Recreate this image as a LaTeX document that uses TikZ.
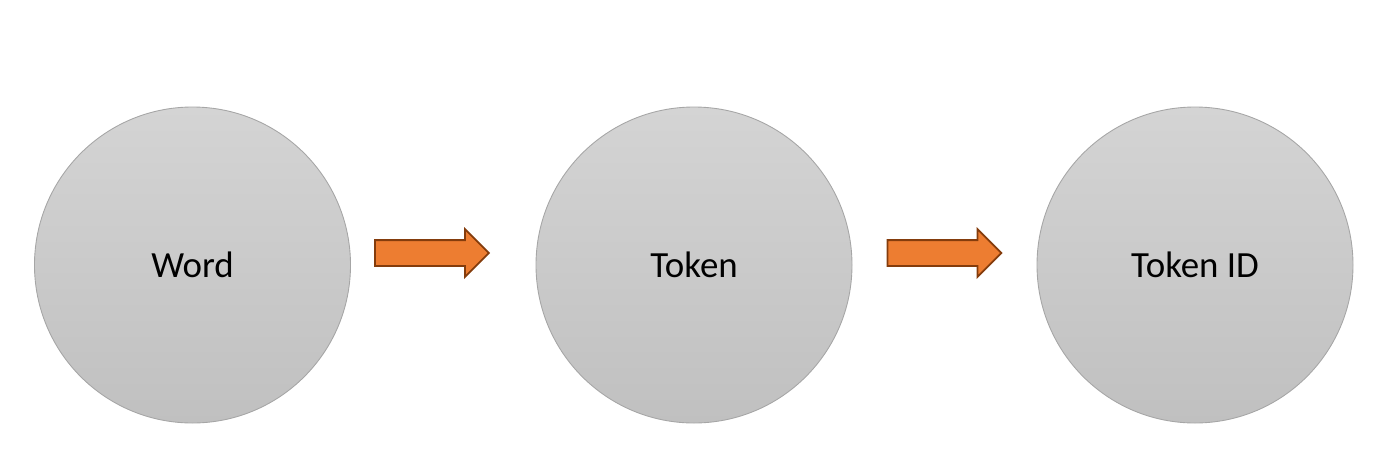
\documentclass[tikz,border=0pt]{standalone}
\usepackage{fontspec}
\setmainfont{Carlito}
\usetikzlibrary{shapes.arrows}

\definecolor{circleedge}{HTML}{A6A6A6}
\definecolor{arrowfill}{HTML}{ED7D31}
\definecolor{arrowedge}{HTML}{843C0C}

\tikzset{
	stage/.style={circle, draw=circleedge, line width=0.5pt, top color={rgb,255:red,212;green,212;blue,212}, bottom color={rgb,255:red,192;green,192;blue,192}, minimum size=316*0.02cm, inner sep=0pt, font=\fontsize{21}{25}\selectfont},
	flow/.style={single arrow, draw=arrowedge, fill=arrowfill, line width=1pt, inner xsep=0pt, inner ysep=12*0.02cm, minimum height=114*0.02cm, single arrow head extend=11*0.02cm, single arrow head indent=0pt, outer sep=0pt}
}

\begin{document}
\begin{tikzpicture}[x=0.02cm, y=-0.02cm]
	
	\useasboundingbox (0, 0) rectangle (1393, 474);
	
	\node[stage] (word) at (192.5, 265) {Word}; % 1
	\node[stage] (token) at (694, 265) {Token}; % 2
	\node[stage] (tokenid) at (1195, 265) {Token ID}; % 3
	
	\node[flow] (wordtotoken) at (425.5, 253) {}; % 1 -> 2
	\node[flow] (tokentoid) at (938, 253) {}; % 2 -> 3

\end{tikzpicture}
\end{document}
